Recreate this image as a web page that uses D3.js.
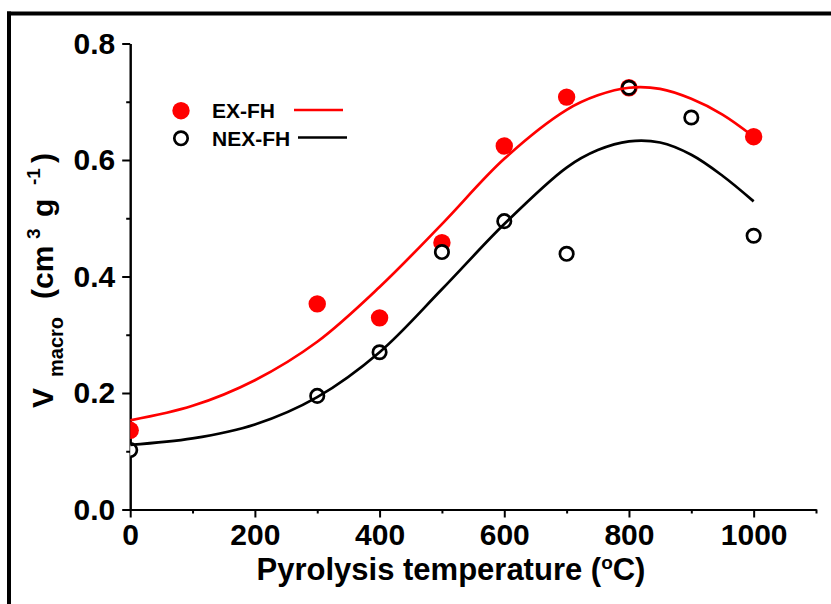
<!DOCTYPE html>
<html><head><meta charset="utf-8">
<script src="https://cdn.jsdelivr.net/npm/d3@7"></script>
<style>
html,body{margin:0;padding:0;background:#fff;}
svg{display:block;}
text{font-family:"Liberation Sans",Arial,sans-serif;font-weight:bold;fill:#000;}
</style></head>
<body><svg id="c" width="831" height="604"></svg>
<script>
// ---- data ----
const temps = [0, 300, 400, 500, 600, 700, 800, 1000];
const exfh = [0.136, 0.353, 0.329, 0.458, 0.624, 0.708, 0.724, 0.640];
const nexTemps = [0, 300, 400, 500, 600, 700, 800, 900, 1000];
const nexfh = [0.102, 0.195, 0.270, 0.442, 0.495, 0.439, 0.724, 0.673, 0.470];
const fitT = [0, 100, 200, 300, 400, 500, 600, 700, 750, 800, 850, 900, 950, 1000];
const exFit = [0.153, 0.178, 0.222, 0.288, 0.382, 0.490, 0.602, 0.686, 0.711, 0.724, 0.722, 0.705, 0.678, 0.640];
const nexFit = [0.111, 0.122, 0.146, 0.193, 0.270, 0.378, 0.490, 0.587, 0.617, 0.632, 0.630, 0.609, 0.573, 0.529];
const xMajor = [0, 200, 400, 600, 800, 1000];
const xMinor = [100, 300, 500, 700, 900, 1100];
const yMajor = [0, 0.2, 0.4, 0.6, 0.8];
const yMinor = [0.1, 0.3, 0.5, 0.7];
const seriesNames = ["EX-FH", "NEX-FH"];

const svg = d3.select("#c");
const x = d3.scaleLinear().domain([0, 1100]).range([130.2, 816]);
const y = d3.scaleLinear().domain([0, 0.8]).range([509.5, 43.5]);

// frame (cropped border)
svg.append("line").attr("x1", 7).attr("x2", 831).attr("y1", 13.5).attr("y2", 13.5).attr("stroke", "#000").attr("stroke-width", 4);
svg.append("line").attr("x1", 9).attr("x2", 9).attr("y1", 11.5).attr("y2", 604).attr("stroke", "#000").attr("stroke-width", 4);

svg.append("defs").append("clipPath").attr("id", "clip")
  .append("rect").attr("x", x(0)).attr("y", 0).attr("width", x(1100) - x(0) + 20).attr("height", y(0) + 1);

// axes
svg.append("g").attr("transform", `translate(0,${y(0)})`)
  .call(d3.axisBottom(x).tickValues(xMajor).tickSize(8).tickSizeOuter(0).tickPadding(6).tickFormat(d3.format("d")));
svg.append("g").attr("transform", `translate(0,${y(0)})`)
  .call(d3.axisBottom(x).tickValues(xMinor).tickSize(4).tickSizeOuter(0).tickFormat(""));
svg.append("g").attr("transform", `translate(${x(0)},0)`)
  .call(d3.axisLeft(y).tickValues(yMajor).tickSize(8).tickSizeOuter(0).tickPadding(7).tickFormat(d3.format(".1f")));
svg.append("g").attr("transform", `translate(${x(0)},0)`)
  .call(d3.axisLeft(y).tickValues(yMinor).tickSize(4).tickSizeOuter(0).tickFormat(""));
svg.selectAll(".domain").attr("stroke", "#000").attr("stroke-width", 2);
svg.selectAll(".tick line").attr("stroke", "#000").attr("stroke-width", 2);
svg.selectAll(".tick text").attr("font-size", 30).attr("font-family", "Liberation Sans, Arial, sans-serif").attr("font-weight", "bold").attr("fill", "#000");

// plot
const plot = svg.append("g").attr("clip-path", "url(#clip)");
plot.selectAll("circle.ex").data(temps.map((t, i) => [t, exfh[i]])).join("circle")
  .attr("class", "ex").attr("cx", d => x(d[0])).attr("cy", d => y(d[1])).attr("r", 8.7).attr("fill", "#ff0000");
plot.selectAll("circle.nex").data(nexTemps.map((t, i) => [t, nexfh[i]])).join("circle")
  .attr("class", "nex").attr("cx", d => x(d[0])).attr("cy", d => y(d[1])).attr("r", 6.7)
  .attr("fill", "#fff").attr("stroke", "#000").attr("stroke-width", 2.7);
const line = d3.line().x(d => x(d[0])).y(d => y(d[1])).curve(d3.curveCatmullRom.alpha(0.5));
plot.append("path").datum(fitT.map((t, i) => [t, exFit[i]])).attr("d", line)
  .attr("fill", "none").attr("stroke", "#ff0000").attr("stroke-width", 2.7);
plot.append("path").datum(fitT.map((t, i) => [t, nexFit[i]])).attr("d", line)
  .attr("fill", "none").attr("stroke", "#000").attr("stroke-width", 2.7);

// legend
const lg = svg.append("g");
lg.append("circle").attr("cx", 181).attr("cy", 110.7).attr("r", 8.7).attr("fill", "#ff0000");
lg.append("text").attr("x", 212).attr("y", 118.2).attr("font-size", 21).text(seriesNames[0]);
lg.append("line").attr("x1", 294).attr("x2", 343).attr("y1", 110).attr("y2", 110).attr("stroke", "#ff0000").attr("stroke-width", 2.7);
lg.append("circle").attr("cx", 181).attr("cy", 138.3).attr("r", 6.7).attr("fill", "#fff").attr("stroke", "#000").attr("stroke-width", 2.7);
lg.append("text").attr("x", 212).attr("y", 145.8).attr("font-size", 21).text(seriesNames[1]);
lg.append("line").attr("x1", 298).attr("x2", 347).attr("y1", 137.5).attr("y2", 137.5).attr("stroke", "#000").attr("stroke-width", 2.7);

// x title
const xt = svg.append("text").attr("x", 451).attr("y", 580).attr("text-anchor", "middle").attr("font-size", 31);
xt.append("tspan").text("Pyrolysis temperature (");
xt.append("tspan").attr("font-size", 19).attr("dy", -11).text("o");
xt.append("tspan").attr("dy", 11).text("C)");

// y title (rotated; local x measured upward from the bottom of "V")
const yt = svg.append("text").attr("transform", "translate(53,407) rotate(-90)").attr("font-size", 30);
yt.append("tspan").attr("x", -1).attr("y", 0).text("V");
yt.append("tspan").attr("x", 30).attr("y", 10).attr("font-size", 20).text("macro");
yt.append("tspan").attr("x", 108).attr("y", 0).text("(cm");
yt.append("tspan").attr("x", 168).attr("y", -13).attr("font-size", 19).text("3");
yt.append("tspan").attr("x", 190).attr("y", 0).text("g");
yt.append("tspan").attr("x", 222).attr("y", -13).attr("font-size", 19).text("-1");
yt.append("tspan").attr("x", 244).attr("y", 0).text(")");
</script></body></html>
